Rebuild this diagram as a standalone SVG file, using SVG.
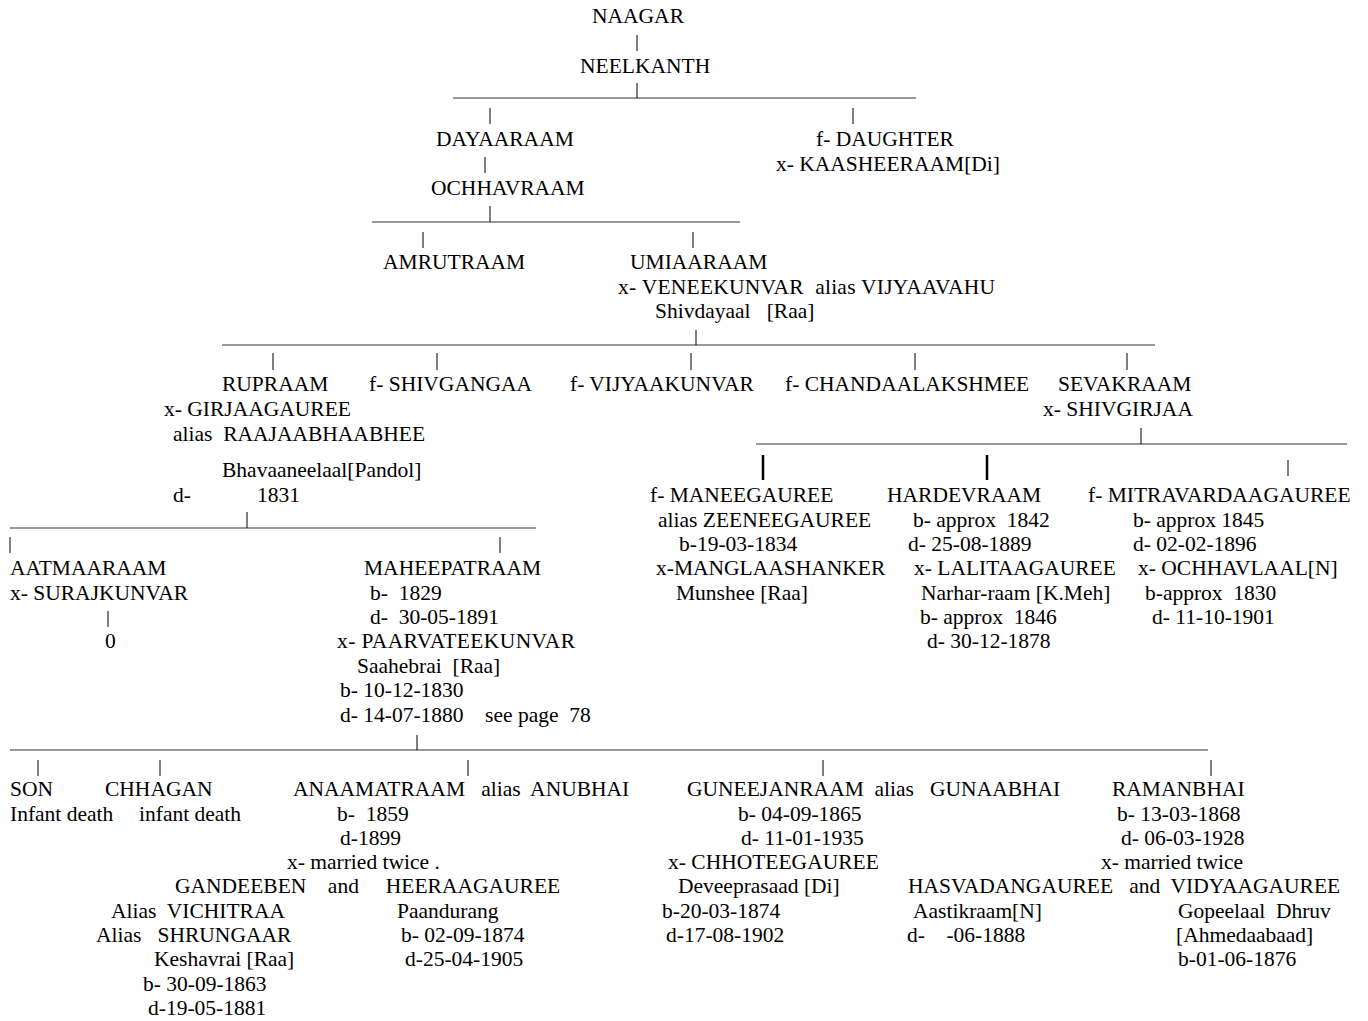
<svg xmlns="http://www.w3.org/2000/svg" width="1368" height="1021" viewBox="0 0 1368 1021" xml:space="preserve">
<style>
text { font-family: "Liberation Serif", "Times New Roman", serif; font-size: 21.5px; fill: #000; white-space: pre; }
.h { stroke: #333; stroke-width: 1.2; }
.v { stroke: #000; stroke-width: 1; }
.vb { stroke: #000; stroke-width: 2.5; }
</style>
<rect width="1368" height="1021" fill="#fff"/>
<g id="connectors">
  <line class="v" x1="637" y1="35" x2="637" y2="51"/>
  <line class="h" x1="453" y1="98" x2="916" y2="98"/>
  <line class="v" x1="637" y1="83" x2="637" y2="98"/>
  <line class="v" x1="490" y1="108" x2="490" y2="124"/>
  <line class="v" x1="853" y1="108" x2="853" y2="124"/>
  <line class="v" x1="485" y1="157" x2="485" y2="173"/>
  <line class="h" x1="372" y1="222" x2="740" y2="222"/>
  <line class="v" x1="490" y1="206" x2="490" y2="222"/>
  <line class="v" x1="423" y1="232" x2="423" y2="248"/>
  <line class="v" x1="693" y1="232" x2="693" y2="248"/>
  <line class="h" x1="222" y1="345" x2="1155" y2="345"/>
  <line class="v" x1="696" y1="330" x2="696" y2="345"/>
  <line class="v" x1="273" y1="353" x2="273" y2="370"/>
  <line class="v" x1="437" y1="353" x2="437" y2="370"/>
  <line class="v" x1="691" y1="353" x2="691" y2="370"/>
  <line class="v" x1="915" y1="353" x2="915" y2="370"/>
  <line class="v" x1="1127" y1="353" x2="1127" y2="370"/>
  <line class="h" x1="756" y1="444" x2="1347" y2="444"/>
  <line class="v" x1="1141" y1="428" x2="1141" y2="444"/>
  <line class="vb" x1="763" y1="455" x2="763" y2="480"/>
  <line class="vb" x1="987" y1="455" x2="987" y2="480"/>
  <line class="v" x1="1288" y1="460" x2="1288" y2="476"/>
  <line class="h" x1="10" y1="528" x2="536" y2="528"/>
  <line class="v" x1="247" y1="512" x2="247" y2="528"/>
  <line class="v" x1="10" y1="537" x2="10" y2="553"/>
  <line class="v" x1="500" y1="537" x2="500" y2="553"/>
  <line class="v" x1="108" y1="611" x2="108" y2="627"/>
  <line class="h" x1="10" y1="750" x2="1208" y2="750"/>
  <line class="v" x1="417" y1="735" x2="417" y2="750"/>
  <line class="v" x1="38" y1="760" x2="38" y2="776"/>
  <line class="v" x1="160" y1="760" x2="160" y2="776"/>
  <line class="v" x1="468" y1="760" x2="468" y2="776"/>
  <line class="v" x1="823" y1="760" x2="823" y2="776"/>
  <line class="v" x1="1211" y1="760" x2="1211" y2="776"/>
</g>
<g id="naagar"><text x="592" y="23">NAAGAR</text></g>
<g id="neelkanth"><text x="580" y="73">NEELKANTH</text></g>
<g id="dayaaraam"><text x="436" y="146">DAYAARAAM</text></g>
<g id="daughter"><text x="816" y="146">f- DAUGHTER</text><text x="776" y="171">x- KAASHEERAAM[Di]</text></g>
<g id="ochhavraam"><text x="431" y="195">OCHHAVRAAM</text></g>
<g id="amrutraam"><text x="383" y="269">AMRUTRAAM</text></g>
<g id="umiaaraam"><text x="630" y="269">UMIAARAAM</text><text x="618" y="294" textLength="377" lengthAdjust="spacing">x- VENEEKUNVAR  alias VIJYAAVAHU</text><text x="655" y="318">Shivdayaal   [Raa]</text></g>
<g id="rupraam"><text x="222" y="391">RUPRAAM</text><text x="164" y="416">x- GIRJAAGAUREE</text><text x="173" y="441">alias  RAAJAABHAABHEE</text><text x="222" y="477">Bhavaaneelaal[Pandol]</text><text x="173" y="502">d-</text><text x="257" y="502">1831</text></g>
<g id="shivgangaa"><text x="369" y="391">f- SHIVGANGAA</text></g>
<g id="vijyaakunvar"><text x="570" y="391">f- VIJYAAKUNVAR</text></g>
<g id="chandaalakshmee"><text x="785" y="391">f- CHANDAALAKSHMEE</text></g>
<g id="sevakraam"><text x="1058" y="391">SEVAKRAAM</text><text x="1043" y="416">x- SHIVGIRJAA</text></g>
<g id="maneegauree"><text x="650" y="502">f- MANEEGAUREE</text><text x="658" y="527">alias ZEENEEGAUREE</text><text x="679" y="551">b-19-03-1834</text><text x="656" y="575">x-MANGLAASHANKER</text><text x="676" y="600">Munshee [Raa]</text></g>
<g id="hardevraam"><text x="887" y="502">HARDEVRAAM</text><text x="913" y="527">b- approx  1842</text><text x="908" y="551">d- 25-08-1889</text><text x="914" y="575">x- LALITAAGAUREE</text><text x="921" y="600">Narhar-raam [K.Meh]</text><text x="920" y="624">b- approx  1846</text><text x="927" y="648">d- 30-12-1878</text></g>
<g id="mitravardaagauree"><text x="1088" y="502">f- MITRAVARDAAGAUREE</text><text x="1133" y="527">b- approx 1845</text><text x="1133" y="551">d- 02-02-1896</text><text x="1138" y="575">x- OCHHAVLAAL[N]</text><text x="1145" y="600">b-approx  1830</text><text x="1152" y="624">d- 11-10-1901</text></g>
<g id="aatmaaraam"><text x="10" y="575">AATMAARAAM</text><text x="10" y="600">x- SURAJKUNVAR</text><text x="105" y="648">0</text></g>
<g id="maheepatraam"><text x="364" y="575">MAHEEPATRAAM</text><text x="370" y="600">b-  1829</text><text x="370" y="624">d-  30-05-1891</text><text x="337" y="648" textLength="238" lengthAdjust="spacing">x- PAARVATEEKUNVAR</text><text x="357" y="673">Saahebrai  [Raa]</text><text x="340" y="697">b- 10-12-1830</text><text x="340" y="722">d- 14-07-1880    see page  78</text></g>
<g id="son"><text x="10" y="796">SON</text><text x="10" y="821">Infant death</text></g>
<g id="chhagan"><text x="105" y="796">CHHAGAN</text><text x="139" y="821">infant death</text></g>
<g id="anaamatraam"><text x="293" y="796">ANAAMATRAAM   alias  ANUBHAI</text><text x="337" y="821">b-  1859</text><text x="340" y="845">d-1899</text><text x="287" y="869">x- married twice .</text><text x="175" y="893">GANDEEBEN    and     HEERAAGAUREE</text><text x="111" y="918">Alias  VICHITRAA</text><text x="96" y="942">Alias   SHRUNGAAR</text><text x="154" y="966">Keshavrai [Raa]</text><text x="143" y="991">b- 30-09-1863</text><text x="148" y="1015">d-19-05-1881</text><text x="397" y="918">Paandurang</text><text x="401" y="942">b- 02-09-1874</text><text x="405" y="966">d-25-04-1905</text></g>
<g id="guneejanraam"><text x="687" y="796">GUNEEJANRAAM  alias   GUNAABHAI</text><text x="738" y="821">b- 04-09-1865</text><text x="741" y="845">d- 11-01-1935</text><text x="668" y="869">x- CHHOTEEGAUREE</text><text x="678" y="893">Deveeprasaad [Di]</text><text x="662" y="918">b-20-03-1874</text><text x="666" y="942">d-17-08-1902</text></g>
<g id="ramanbhai"><text x="1112" y="796">RAMANBHAI</text><text x="1117" y="821">b- 13-03-1868</text><text x="1121" y="845">d- 06-03-1928</text><text x="1101" y="869">x- married twice</text><text x="908" y="893">HASVADANGAUREE   and  VIDYAAGAUREE</text><text x="913" y="918">Aastikraam[N]</text><text x="907" y="942">d-    -06-1888</text><text x="1178" y="918">Gopeelaal  Dhruv</text><text x="1176" y="942">[Ahmedaabaad]</text><text x="1178" y="966">b-01-06-1876</text></g>
</svg>
